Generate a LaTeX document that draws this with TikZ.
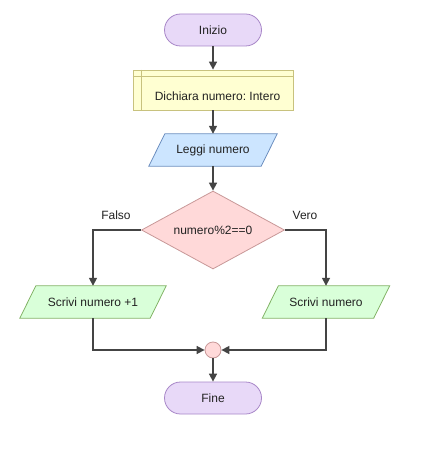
\documentclass[tikz,border=0pt]{standalone}
\usepackage{fontspec}
\setmainfont{Liberation Sans}
\usetikzlibrary{shapes.geometric,arrows.meta,calc,backgrounds}
\definecolor{termfill}{HTML}{E8D9F8}
\definecolor{termdraw}{HTML}{A887C8}
\definecolor{declfill}{HTML}{FFFFD2}
\definecolor{decldraw}{HTML}{C8C27E}
\definecolor{infill}{HTML}{CCE5FF}
\definecolor{indraw}{HTML}{6C8EBF}
\definecolor{decfill}{HTML}{FFD9D9}
\definecolor{decdraw}{HTML}{C89898}
\definecolor{outfill}{HTML}{D9FFD9}
\definecolor{outdraw}{HTML}{82B366}
\definecolor{linecol}{HTML}{444444}
\definecolor{txtcol}{HTML}{222222}
\frenchspacing
\begin{document}
\begin{tikzpicture}[x=1pt,y=-1pt,
  font=\fontsize{12}{14}\selectfont, text=txtcol,
  term/.style={draw=termdraw, fill=termfill, line width=0.8pt, rounded corners=16pt,
    minimum width=97pt, minimum height=32pt, inner sep=0pt},
  declbox/.style={draw=decldraw, fill=declfill, line width=0.8pt,
    minimum width=160pt, minimum height=40pt, inner sep=0pt,
    text height=22pt, text depth=0pt},
  parabox/.style={minimum height=32pt, inner sep=0pt},
  decbox/.style={diamond, aspect=1.83, draw=decdraw, fill=decfill, line width=0.8pt,
    minimum width=143pt, minimum height=78pt, inner sep=0pt},
  joinbox/.style={circle, draw=decdraw, fill=decfill, line width=0.8pt,
    minimum size=16pt, inner sep=0pt},
  flow/.style={draw=linecol, line width=1.6pt, -{Triangle[length=8pt,width=8pt]}},
  lbl/.style={text=txtcol, inner sep=0pt}
]
\useasboundingbox (0,0) rectangle (427,465);

\node[term] (start) at (213,30) {Inizio};
\node[declbox] (decl) at (213,90) {\hspace*{9pt}Dichiara numero: Intero};
\draw[decldraw, line width=0.8pt] ($(decl.north west)+(0,7)$) -- ($(decl.north east)+(0,7)$);
\draw[decldraw, line width=0.8pt] ($(decl.north west)+(9,0)$) -- ($(decl.south west)+(9,0)$);
\node[parabox, minimum width=112pt] (read) at (213,150) {Leggi numero};
\node[decbox] (cond) at (213,230) {numero\%2==0};
\node[parabox, minimum width=130pt] (outl) at (93,302) {Scrivi numero +1};
\node[parabox, minimum width=111pt] (outr) at (326,302) {Scrivi numero};
\node[joinbox] (join) at (213,350) {};
\node[term] (stop) at (213,398) {Fine};

\begin{scope}[on background layer]
\foreach \n/\f/\d in {read/infill/indraw, outl/outfill/outdraw, outr/outfill/outdraw}{
  \draw[draw=\d, fill=\f, line width=0.8pt]
    ($(\n.south west)+(-8,0)$) -- ($(\n.north west)+(8,0)$) --
    ($(\n.north east)+(8,0)$) -- ($(\n.south east)+(-8,0)$) -- cycle;
}
\end{scope}

\draw[flow] (start) -- (decl);
\draw[flow] (decl) -- (read);
\draw[flow] (read) -- (cond);
\draw[flow] (cond.west) -| (outl.north);
\draw[flow] (cond.east) -| (outr.north);
\draw[flow] (outl.south) |- (join.west);
\draw[flow] (outr.south) |- (join.east);
\draw[flow] (join) -- (stop);

\node[lbl] (lfalse) at (116,215) {Falso};
\node[lbl] (ltrue) at (305,215) {Vero};
\end{tikzpicture}
\end{document}
